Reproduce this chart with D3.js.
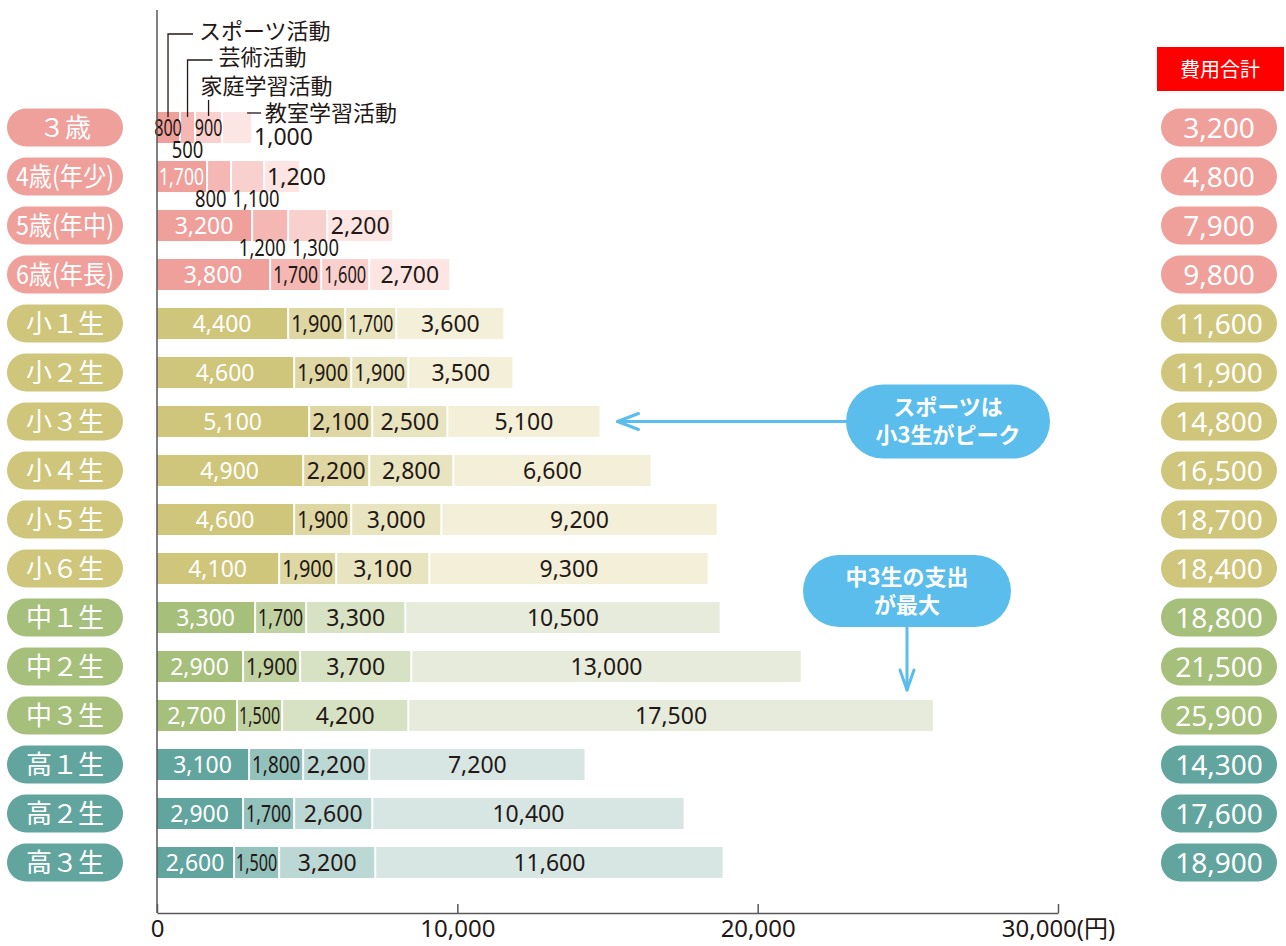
<!DOCTYPE html>
<html>
<head>
<meta charset="utf-8">
<script src="https://cdn.jsdelivr.net/npm/d3@7"></script>
<style>
body { margin: 0; background: #fff; }
svg { display: block; }
text { font-family: "Noto Sans", "Noto Sans CJK JP", sans-serif; }
</style>
</head>
<body>
<svg id="chart" width="1286" height="946"></svg>
<script>
const AGES = ['３歳','4歳(年少)','5歳(年中)','6歳(年長)','小１生','小２生','小３生','小４生','小５生','小６生','中１生','中２生','中３生','高１生','高２生','高３生'];
const STAGES = ['pre','pre','pre','pre','ele','ele','ele','ele','ele','ele','jhs','jhs','jhs','hs','hs','hs'];
const SPORTS = [800,1700,3200,3800,4400,4600,5100,4900,4600,4100,3300,2900,2700,3100,2900,2600];
const ARTS = [500,800,1200,1700,1900,1900,2100,2200,1900,1900,1700,1900,1500,1800,1700,1500];
const HOME = [900,1100,1300,1600,1700,1900,2500,2800,3000,3100,3300,3700,4200,2200,2600,3200];
const CLASSROOM = [1000,1200,2200,2700,3600,3500,5100,6600,9200,9300,10500,13000,17500,7200,10400,11600];
const TOTALS = [3200,4800,7900,9800,11600,11900,14800,16500,18700,18400,18800,21500,25900,14300,17600,18900];
const SERIES = ['スポーツ活動','芸術活動','家庭学習活動','教室学習活動'];
const X_TICKS = [0,10000,20000,30000];

// colours per school stage: sports, arts, home study, classroom
const PALETTE = {
  pre: ['#f0a09b','#f4b7b3','#f8d0cd','#fce5e3'],
  ele: ['#cfc57b','#ded7a3','#e9e4c0','#f3efd8'],
  jhs: ['#a6bf7b','#c0d2a2','#d6e2c3','#e6ebdb'],
  hs:  ['#62a59e','#93c1bc','#bcd8d4','#d7e6e3'],
};
// labels that do not sit inside their segment (row|series)
const LABEL_MODE = new Map([
  ['0|1','below'], ['0|3','after'],
  ['1|1','below'], ['1|2','below'], ['1|3','start'],
  ['2|1','below'], ['2|2','below'],
]);

const DARK = '#231815';
const AXIS = '#595757';
const BLUE = '#5bbdeb';
const fmt = d3.format(',');

const svg = d3.select('#chart');

const x = d3.scaleLinear().domain([0, 30000]).range([157, 1058]);
const y = d3.scaleBand().domain(AGES).range([103, 887]).paddingInner(0.367).paddingOuter(0.1835);
const bh = y.bandwidth();

const keys = ['sports','arts','home','classroom'];
const table = AGES.map((age, i) => ({
  age, i,
  sports: SPORTS[i], arts: ARTS[i], home: HOME[i], classroom: CLASSROOM[i],
}));
const stacked = d3.stack().keys(keys)(table);

// bars
const barG = svg.append('g');
stacked.forEach((layer, k) => {
  barG.append('g')
    .selectAll('rect')
    .data(layer)
    .join('rect')
    .attr('x', d => x(d[0]))
    .attr('y', d => y(d.data.age))
    .attr('width', d => Math.max(0, x(d[1]) - x(d[0]) - 2))
    .attr('height', bh)
    .attr('fill', d => PALETTE[STAGES[d.data.i]][k]);
});

// segment labels
const labelG = svg.append('g');
const belowByRow = new Map();
stacked.forEach((layer, k) => {
  layer.forEach(d => {
    const i = d.data.i;
    const v = d[1] - d[0];
    const x0 = x(d[0]);
    const segW = x(d[1]) - x(d[0]) - 2;
    const cx = x0 + segW / 2;
    const cy = y(d.data.age) + bh / 2;
    const mode = LABEL_MODE.get(`${i}|${k}`) || 'inside';
    const t = labelG.append('text')
      .attr('font-size', 23)
      .attr('dy', '0.36em')
      .attr('fill', DARK)
      .text(fmt(v));
    const w = t.node().getComputedTextLength();
    if (mode === 'inside') {
      let tw = w;
      if (w > segW - 4) {
        tw = Math.max(w * 0.7, segW - 4);
        t.attr('textLength', tw).attr('lengthAdjust', 'spacingAndGlyphs');
      }
      t.attr('x', cx).attr('y', cy).attr('text-anchor', 'middle');
      if (k === 0 && tw <= segW) t.attr('fill', '#fff');
    } else if (mode === 'below') {
      const tw = w * 0.8;
      t.attr('y', y(d.data.age) + bh + 7).attr('text-anchor', 'middle')
        .attr('textLength', tw).attr('lengthAdjust', 'spacingAndGlyphs');
      if (!belowByRow.has(i)) belowByRow.set(i, []);
      belowByRow.get(i).push({ t, cx, w: tw });
    } else if (mode === 'after') {
      t.attr('x', x(TOTALS[i]) + 1).attr('y', cy + 9).attr('text-anchor', 'start');
    } else if (mode === 'start') {
      t.attr('x', x0 + 2).attr('y', cy).attr('text-anchor', 'start');
    }
  });
});
// push apart labels under the narrow segments
for (const items of belowByRow.values()) {
  items.sort((a, b) => a.cx - b.cx);
  for (let j = 1; j < items.length; j++) {
    const a = items[j - 1], b = items[j];
    const overlap = (a.cx + a.w / 2 + 6) - (b.cx - b.w / 2);
    if (overlap > 0) { a.cx -= overlap / 2; b.cx += overlap / 2; }
  }
  items.forEach(o => o.t.attr('x', o.cx));
}

// axes
svg.append('line')
  .attr('x1', x(0)).attr('x2', x(0))
  .attr('y1', 10).attr('y2', 913)
  .attr('stroke', AXIS).attr('stroke-width', 1.5);

const xAxis = svg.append('g')
  .attr('transform', 'translate(0,913)')
  .call(d3.axisBottom(x)
    .tickValues(X_TICKS)
    .tickSizeInner(-9)
    .tickSizeOuter(0)
    .tickPadding(7)
    .tickFormat(d => d === 30000 ? fmt(d) + '(円)' : fmt(d)));
xAxis.select('.domain').attr('stroke', AXIS).attr('stroke-width', 1.5);
xAxis.selectAll('.tick line').attr('stroke', AXIS).attr('stroke-width', 1.5);
xAxis.selectAll('.tick text')
  .attr('fill', DARK)
  .attr('font-size', 24)
  .style('font-family', '"Noto Sans", "Noto Sans CJK JP", sans-serif');

// left category pills
const pillG = svg.append('g');
AGES.forEach((age, i) => {
  const cy = y(age) + bh / 2;
  const col = PALETTE[STAGES[i]][0];
  pillG.append('rect')
    .attr('x', 7).attr('y', cy - 19)
    .attr('width', 116).attr('height', 38)
    .attr('rx', 19)
    .attr('fill', col);
  const t = pillG.append('text')
    .attr('x', 65).attr('y', cy)
    .attr('dy', '0.36em')
    .attr('text-anchor', 'middle')
    .attr('fill', '#fff')
    .attr('font-size', 26)
    .style('font-family', '"Noto Sans CJK JP", sans-serif')
    .text(age);
  if (t.node().getComputedTextLength() > 102) {
    t.attr('textLength', 98).attr('lengthAdjust', 'spacingAndGlyphs');
  }

  // right total pills
  pillG.append('rect')
    .attr('x', 1161).attr('y', cy - 19)
    .attr('width', 116).attr('height', 38)
    .attr('rx', 19)
    .attr('fill', col);
  pillG.append('text')
    .attr('x', 1219).attr('y', cy)
    .attr('dy', '0.36em')
    .attr('text-anchor', 'middle')
    .attr('fill', '#fff')
    .attr('font-size', 28)
    .text(fmt(TOTALS[i]));
});

// header of totals
svg.append('rect')
  .attr('x', 1157).attr('y', 47)
  .attr('width', 127).attr('height', 44)
  .attr('fill', '#ff0000');
svg.append('text')
  .attr('x', 1220).attr('y', 70)
  .attr('dy', '0.36em')
  .attr('text-anchor', 'middle')
  .attr('fill', '#fff')
  .attr('font-size', 20)
  .style('font-family', '"Noto Sans CJK JP", sans-serif')
  .text('費用合計');

// legend leaders, hung on the first row's segments
const first = stacked.map(layer => layer[0]);
const segC = first.map(d => x(d[0]) + (x(d[1]) - x(d[0]) - 2) / 2);
const barTop = y(AGES[0]);
const barEnd = x(TOTALS[0]) - 2;
const legG = svg.append('g')
  .attr('fill', 'none').attr('stroke', DARK).attr('stroke-width', 1.3);
legG.append('path').attr('d', `M${segC[0]},${barTop + 5}V34H${segC[0] + 25}`);
legG.append('path').attr('d', `M${segC[1]},${barTop + 5}V60H${segC[1] + 25}`);
legG.append('path').attr('d', `M${segC[2]},${barTop + 4}V100`);
legG.append('path').attr('d', `M${barEnd - 4},${barTop + 1}H${barEnd + 10}`);

const legText = [
  { x: segC[0] + 31, y: 31 },
  { x: segC[1] + 31, y: 57 },
  { x: segC[2] - 8, y: 86 },
  { x: barEnd + 14, y: 113 },
];
SERIES.forEach((s, k) => {
  svg.append('text')
    .attr('x', legText[k].x).attr('y', legText[k].y)
    .attr('dy', '0.36em')
    .attr('fill', DARK)
    .attr('font-size', 22)
    .style('font-family', '"Noto Sans CJK JP", sans-serif')
    .text(s);
});

// callouts
function bubble(cx, cy, w, h, lines) {
  const g = svg.append('g');
  g.append('rect')
    .attr('x', cx - w / 2).attr('y', cy - h / 2)
    .attr('width', w).attr('height', h)
    .attr('rx', h / 2)
    .attr('fill', BLUE);
  lines.forEach((ln, j) => {
    g.append('text')
      .attr('x', cx).attr('y', cy + (j - (lines.length - 1) / 2) * 28)
      .attr('dy', '0.36em')
      .attr('text-anchor', 'middle')
      .attr('fill', '#fff')
      .attr('font-size', 22)
      .attr('font-weight', 700)
      .style('font-family', '"Noto Sans CJK JP", sans-serif')
      .text(ln);
  });
}
const arrowG = svg.append('g')
  .attr('fill', 'none').attr('stroke', BLUE)
  .attr('stroke-width', 3).attr('stroke-linecap', 'round').attr('stroke-linejoin', 'round');

const peakRow = AGES.indexOf('小３生');
const peakY = y(AGES[peakRow]) + bh / 2;
const tip1 = x(TOTALS[peakRow]) + 16;
arrowG.append('path').attr('d', `M948,${peakY}H${tip1}`);
arrowG.append('path').attr('d', `M${tip1 + 21},${peakY - 8}L${tip1},${peakY}L${tip1 + 21},${peakY + 8}`);
bubble(948, peakY, 204, 74, ['スポーツは', '小3生がピーク']);

const maxRow = AGES.indexOf('中３生');
const tip2 = y(AGES[maxRow]) - 10;
arrowG.append('path').attr('d', `M907,600V${tip2}`);
arrowG.append('path').attr('d', `M900,${tip2 - 20}L907,${tip2}L914,${tip2 - 20}`);
bubble(907, 591, 208, 72, ['中3生の支出', 'が最大']);
</script>
</body>
</html>
